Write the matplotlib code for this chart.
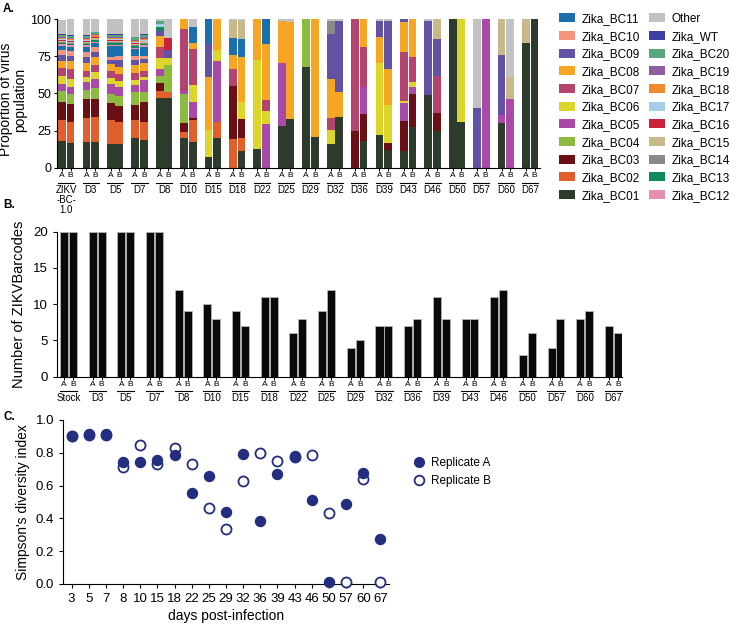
import numpy as np
import matplotlib
matplotlib.use('Agg')
import matplotlib.pyplot as plt
import matplotlib.transforms as mtransforms
from matplotlib.patches import Patch
from matplotlib.lines import Line2D

plt.rcParams['font.family'] = ['Liberation Sans', 'DejaVu Sans']

# Panel A: proportion of each barcode, bars = Stock A, Stock B, D3 A, D3 B, ... D67 A, D67 B
days_a = ['ZIKV\n-BC-\n1.0', 'D3', 'D5', 'D7', 'D8', 'D10', 'D15', 'D18', 'D22', 'D25',
          'D29', 'D32', 'D36', 'D39', 'D43', 'D46', 'D50', 'D57', 'D60', 'D67']

bc01 = [18, 17, 17.4, 17.4, 16.3, 15.8, 20, 18.5, 46.9, 47, 20, 17.4, 7.4, 20, 0, 11.6, 13, 0, 28, 33,
        67.6, 20.8, 16.3, 33.9, 0, 18.3, 21.9, 12.3, 11.2, 27.5, 49.1, 24.6, 100, 30.8, 0, 0, 30.1, 0, 83.7, 100]
bc02 = [14, 14, 16, 17, 16, 14.8, 12.4, 12.7, 4.5, 4, 4, 14.6, 0, 10.8, 19.4, 8.5, 0, 0, 0, 0,
        0, 0, 0, 0, 0, 0, 0, 0, 0, 0, 0, 0, 0, 0, 0, 0, 0, 0, 0, 0]
bc03 = [12, 12, 12.7, 11.6, 11, 11, 10, 13.4, 5.6, 0, 6.4, 1.5, 0, 0, 35.3, 12.7, 0, 0, 0, 0,
        0, 0, 0, 0, 25, 18.1, 0, 4.4, 20.1, 22.3, 0, 12.2, 0, 0, 0, 0, 0, 0, 0, 0]
bc04 = [7.5, 7, 6.3, 7.4, 6.7, 6.7, 8.3, 6.5, 4.5, 18, 19.6, 0, 0, 0, 0, 0, 0, 0, 0, 0,
        32.4, 0, 0, 0, 0, 0, 0, 0, 0, 0, 0, 0, 0, 0, 0, 0, 0, 0, 0, 0]
bc05 = [5, 4.5, 5.5, 6.2, 6.7, 5.8, 5, 8, 5, 0, 1.5, 10.8, 0, 40.7, 0, 0, 0, 29.7, 42.4, 0,
        0, 0, 0, 0, 0, 17.8, 0, 0, 12.2, 4.4, 0, 0, 0, 0, 0, 100, 5.6, 46.4, 0, 0]
bc06 = [5, 5.5, 3.4, 5, 3.8, 4.2, 3.4, 2.2, 7.4, 5, 0, 11.2, 18, 7.4, 0, 11.8, 59.6, 8.3, 0, 0,
        0, 0, 8.9, 0, 0, 0, 48.9, 25.7, 1.8, 3.8, 0, 0, 0, 69.2, 0, 0, 0, 0, 0, 0]
bc07 = [5.4, 6.7, 4, 4.5, 4.5, 5.1, 4.5, 4, 7.4, 0, 41.5, 24.5, 0, 0, 11.6, 0, 0, 7.8, 0, 0,
        0, 0, 8.3, 0, 75, 27.3, 0, 0, 32.8, 16.8, 0, 25, 0, 0, 0, 0, 0, 0, 0, 0]
bc08 = [5, 5, 5, 5.6, 5, 4.5, 5.6, 5, 7.6, 0, 7, 4, 35.7, 21, 9.6, 29.7, 27.4, 37.5, 28.5, 65.2,
        0, 79.2, 26.1, 17.4, 0, 18.5, 16.9, 23.9, 20.1, 25.2, 0, 0, 0, 0, 0, 0, 0, 0, 0, 0]
bc09 = [4, 3.8, 4.5, 3.3, 2.2, 4.5, 3.3, 2.7, 2.9, 5, 0, 0, 22.4, 0, 0, 0, 0, 0, 0, 0,
        0, 0, 30.4, 47.6, 0, 0, 11.2, 32.6, 1.8, 0, 49.8, 24.6, 0, 0, 40, 0, 40.2, 0, 0, 0]
bc10 = [3, 3, 3, 3, 2.5, 3, 2.7, 2.2, 0, 0, 0, 0, 0, 0, 0, 0, 0, 0, 0, 0,
        0, 0, 0, 0, 0, 0, 0, 0, 0, 0, 0, 0, 0, 0, 0, 0, 0, 0, 0, 0]
bc11 = [3, 3, 3.5, 3, 7, 6.5, 4.5, 6.3, 0, 0, 0, 10.6, 16.5, 0, 11.1, 12.3, 0, 16.7, 0, 0,
        0, 0, 0, 0, 0, 0, 0, 0, 0, 0, 0, 0, 0, 0, 0, 0, 0, 0, 0, 0]
bc12 = [1, 0.8, 1, 0.8, 0.8, 0.8, 1, 0.8, 0, 0, 0, 0, 0, 0, 0, 0, 0, 0, 0, 0,
        0, 0, 0, 0, 0, 0, 0, 0, 0, 0, 0, 0, 0, 0, 0, 0, 0, 0, 0, 0]
bc13 = [0.8, 1, 0.8, 0.8, 1.2, 1, 1, 1.2, 2.5, 0, 0, 0, 0, 0, 0, 0, 0, 0, 0, 0,
        0, 0, 0, 0, 0, 0, 0, 0, 0, 0, 0, 0, 0, 0, 0, 0, 0, 0, 0, 0]
bc14 = [0.6, 0.6, 0.6, 0.6, 0.6, 0.6, 0.6, 0.6, 0, 0, 0, 0, 0, 0, 0, 0, 0, 0, 0, 0,
        0, 0, 8.9, 0, 0, 0, 0, 0, 0, 0, 0, 0, 0, 0, 0, 0, 0, 0, 0, 0]
bc15 = [0.8, 0.8, 0.8, 0.8, 0.8, 0.8, 0.8, 0.8, 0, 0, 0, 0, 0, 0, 12, 12.3, 0, 0, 0, 0,
        0, 0, 0, 0, 0, 0, 0, 0, 0, 0, 0, 13.6, 0, 0, 0, 0, 24.1, 14.5, 16.3, 0]
bc16 = [0.8, 0.6, 0.8, 0.6, 0.6, 0.6, 0.8, 0.6, 0, 8, 0, 0, 0, 0, 0, 0, 0, 0, 0, 0,
        0, 0, 0, 0, 0, 0, 0, 0, 0, 0, 0, 0, 0, 0, 0, 0, 0, 0, 0, 0]
bc17 = [0.6, 0.6, 0.6, 0.6, 0.6, 0.6, 0.6, 0.6, 2.5, 0, 0, 0, 0, 0, 0, 0, 0, 0, 0, 0,
        0, 0, 0, 0, 0, 0, 0, 0, 0, 0, 0, 0, 0, 0, 0, 0, 0, 0, 0, 0]
bc18 = [0.8, 0.8, 0.8, 0.8, 0.8, 0.8, 0.8, 0.8, 0, 0, 0, 0, 0, 0, 0, 0, 0, 0, 0, 0,
        0, 0, 0, 0, 0, 0, 0, 0, 0, 0, 0, 0, 0, 0, 0, 0, 0, 0, 0, 0]
bc19 = [0.8, 0.8, 0.8, 0.8, 0.8, 0.8, 0.8, 0.8, 0, 0, 0, 0, 0, 0, 0, 0, 0, 0, 0, 0,
        0, 0, 0, 0, 0, 0, 0, 0, 0, 0, 0, 0, 0, 0, 0, 0, 0, 0, 0, 0]
bc20 = [1, 1.2, 1, 1.2, 1.5, 1.5, 1.5, 1.5, 2, 0, 0, 0, 0, 0, 0, 0, 0, 0, 0, 0,
        0, 0, 0, 0, 0, 0, 0, 0, 0, 0, 0, 0, 0, 0, 0, 0, 0, 0, 0, 0]
wt = [0.6, 0.6, 0.6, 0.6, 0.6, 0.6, 0.6, 0.6, 0, 0, 0, 0, 0, 0, 0, 0, 0, 0, 0, 0,
      0, 0, 0, 0, 0, 0, 0, 0, 0, 0, 0, 0, 0, 0, 0, 0, 0, 0, 0, 0]
other = [9.3, 10.7, 10.9, 8.4, 10, 10, 11.8, 10.2, 1.2, 13, 0, 5.4, 0, 0, 1, 1.1, 0, 0, 1.1, 1.8,
         0, 0, 1.1, 1.1, 0, 0, 1.1, 1.1, 0, 0, 1.1, 0, 0, 0, 60, 0, 0, 39.1, 0, 0]

series_names = ['Zika_BC01', 'Zika_BC02', 'Zika_BC03', 'Zika_BC04', 'Zika_BC05', 'Zika_BC06',
                'Zika_BC07', 'Zika_BC08', 'Zika_BC09', 'Zika_BC10', 'Zika_BC11', 'Zika_BC12',
                'Zika_BC13', 'Zika_BC14', 'Zika_BC15', 'Zika_BC16', 'Zika_BC17', 'Zika_BC18',
                'Zika_BC19', 'Zika_BC20', 'Zika_WT', 'Other']
series_colors = ['#2c3b2b', '#e05f2a', '#6a1014', '#8dbb40', '#a84aa6', '#dcd52a',
                 '#b4446e', '#f6a623', '#6352a4', '#f59580', '#1c6fae', '#e78fb2',
                 '#0f8a5c', '#8a8a8a', '#c8b98b', '#c8233b', '#a7cdeb', '#f08a2c',
                 '#8e5ea1', '#58a67c', '#3b3fa0', '#c2c2c2']
series_values = [bc01, bc02, bc03, bc04, bc05, bc06, bc07, bc08, bc09, bc10, bc11,
                 bc12, bc13, bc14, bc15, bc16, bc17, bc18, bc19, bc20, wt, other]

# Panel B: number of barcodes
days_b = ['Stock', 'D3', 'D5', 'D7', 'D8', 'D10', 'D15', 'D18', 'D22', 'D25',
          'D29', 'D32', 'D36', 'D39', 'D43', 'D46', 'D50', 'D57', 'D60', 'D67']
count_a = [20, 20, 20, 20, 12, 10, 9, 11, 6, 9, 4, 7, 7, 11, 8, 11, 3, 4, 8, 7]
count_b = [20, 20, 20, 20, 9, 8, 7, 11, 8, 12, 5, 7, 8, 8, 8, 12, 6, 8, 9, 6]

# Panel C: Simpson's diversity index
days_c = ['3', '5', '7', '8', '10', '15', '18', '22', '25', '29', '32', '36', '39', '43',
          '46', '50', '57', '60', '67']
simpson_a = [0.905, 0.915, 0.913, 0.746, 0.746, 0.756, 0.787, 0.557, 0.659, 0.439, 0.793,
             0.384, 0.669, 0.780, 0.512, 0.01, 0.486, 0.675, 0.272]
simpson_b = [0.90, 0.91, 0.91, 0.715, 0.848, 0.732, 0.831, 0.732, 0.465, 0.335, 0.630,
             0.797, 0.752, 0.775, 0.787, 0.435, 0.01, 0.642, 0.01]

navy = '#232f7e'

fig = plt.figure(figsize=(7.38, 6.28), dpi=100)
W, H = 738, 628


def px_axes(left, top, right, bottom):
    return fig.add_axes([left / W, 1 - bottom / H, (right - left) / W, (bottom - top) / H])


def style(ax):
    ax.spines['top'].set_visible(False)
    ax.spines['right'].set_visible(False)
    ax.spines['left'].set_linewidth(0.8)
    ax.spines['bottom'].set_linewidth(0.8)


def group_labels(ax, names, y_line, y_text, half):
    trans = mtransforms.blended_transform_factory(ax.transData, ax.transAxes)
    for i, name in enumerate(names):
        ax.plot([i - half, i + half], [y_line, y_line], color='black', lw=0.8,
                transform=trans, clip_on=False)
        ax.text(i, y_text, name, transform=trans, ha='center', va='top',
                fontsize=7, linespacing=1.0)


# ---------- A ----------
axA = px_axes(57, 19, 540, 168)
n = len(days_a)
idx = np.arange(n)
off = 0.175
pos = np.ravel(np.column_stack([idx - off, idx + off]))
bottom = np.zeros(len(pos))
for vals, col, name in zip(series_values, series_colors, series_names):
    vals = np.array(vals, dtype=float)
    axA.bar(pos, vals, width=0.32, bottom=bottom, color=col, linewidth=0, label=name)
    bottom += vals
axA.set_xlim(-0.38, n - 1 + 0.4)
axA.set_ylim(0, 100)
axA.set_yticks([0, 25, 50, 75, 100])
axA.set_xticks(pos)
axA.set_xticklabels(['A', 'B'] * n, fontsize=6)
axA.tick_params(axis='x', length=2, pad=1, width=0.7)
axA.tick_params(axis='y', labelsize=9, length=2.5, pad=1.5, width=0.8)
axA.set_ylabel('Proportion of virus\npopulation', fontsize=10, labelpad=1, linespacing=1.05)
axA.yaxis.set_label_coords(-0.062, 0.46)
style(axA)
group_labels(axA, days_a, -0.10, -0.115, 0.33)

handles = {name: Patch(facecolor=col, edgecolor='none') for name, col in zip(series_names, series_colors)}
order = ['Zika_BC11', 'Zika_BC10', 'Zika_BC09', 'Zika_BC08', 'Zika_BC07', 'Zika_BC06',
         'Zika_BC05', 'Zika_BC04', 'Zika_BC03', 'Zika_BC02', 'Zika_BC01',
         'Other', 'Zika_WT', 'Zika_BC20', 'Zika_BC19', 'Zika_BC18', 'Zika_BC17',
         'Zika_BC16', 'Zika_BC15', 'Zika_BC14', 'Zika_BC13', 'Zika_BC12']
fig.legend([handles[k] for k in order], order, loc='upper left',
           bbox_to_anchor=(559 / W, 1 - 13 / H), ncol=2, frameon=False, fontsize=8.5,
           handlelength=1.35, handleheight=0.8, labelspacing=0.48, handletextpad=0.55,
           columnspacing=0.8, borderpad=0, borderaxespad=0)

# ---------- B ----------
axB = px_axes(57, 231.7, 622, 376.7)
offb = 0.155
posb = np.ravel(np.column_stack([idx - offb, idx + offb]))
axB.bar(idx - offb, count_a, width=0.28, color='#0a0a0a', edgecolor='#b5b5b5', linewidth=0.6)
axB.bar(idx + offb, count_b, width=0.28, color='#0a0a0a', edgecolor='#b5b5b5', linewidth=0.6)
axB.set_xlim(-0.4, n - 1 + 0.3)
axB.set_ylim(0, 20)
axB.set_yticks([0, 5, 10, 15, 20])
axB.set_xticks(posb)
axB.set_xticklabels(['A', 'B'] * n, fontsize=6)
axB.tick_params(axis='x', length=2, pad=1, width=0.7)
axB.tick_params(axis='y', labelsize=9.5, length=3, width=0.8)
axB.set_ylabel('Number of ZIKVBarcodes', fontsize=10.5, labelpad=5)
style(axB)
group_labels(axB, days_b, -0.099, -0.113, 0.3)

# ---------- C ----------
axC = px_axes(63, 420, 389, 584)
xc = np.arange(len(days_c))
axC.scatter(xc, simpson_b, s=52, facecolor='white', edgecolor=navy, linewidth=1.3,
            zorder=3, clip_on=False, label='Replicate B')
axC.scatter(xc, simpson_a, s=52, color=navy, zorder=4, clip_on=False, label='Replicate A')
axC.set_xlim(-0.5, len(days_c) - 0.5)
axC.set_ylim(0, 1.0)
axC.set_yticks([0, 0.2, 0.4, 0.6, 0.8, 1.0])
axC.set_yticklabels(['0.0', '0.2', '0.4', '0.6', '0.8', '1.0'])
axC.set_xticks(xc)
axC.set_xticklabels(days_c)
axC.tick_params(axis='both', labelsize=9.5, length=3, width=0.8)
axC.set_xlabel('days post-infection', fontsize=10, labelpad=3)
axC.set_ylabel("Simpson's diversity index", fontsize=10, labelpad=4)
style(axC)

leg_handles = [Line2D([], [], marker='o', linestyle='none', color=navy, markersize=7),
               Line2D([], [], marker='o', linestyle='none', markerfacecolor='white',
                      markeredgecolor=navy, markeredgewidth=1.3, markersize=7)]
fig.legend(leg_handles, ['Replicate A', 'Replicate B'], loc='upper left',
           bbox_to_anchor=(413 / W, 1 - 457 / H), frameon=False, fontsize=8.5,
           handlelength=1.0, handletextpad=0.5, labelspacing=0.5, borderpad=0, borderaxespad=0)

# panel letters
fig.text(3 / W, 1 - 3 / H, 'A.', fontsize=8.5, fontweight='bold', va='top')
fig.text(3 / W, 1 - 199 / H, 'B.', fontsize=8.5, fontweight='bold', va='top')
fig.text(3 / W, 1 - 411 / H, 'C.', fontsize=8.5, fontweight='bold', va='top')

fig.savefig('out.png', dpi=100)
